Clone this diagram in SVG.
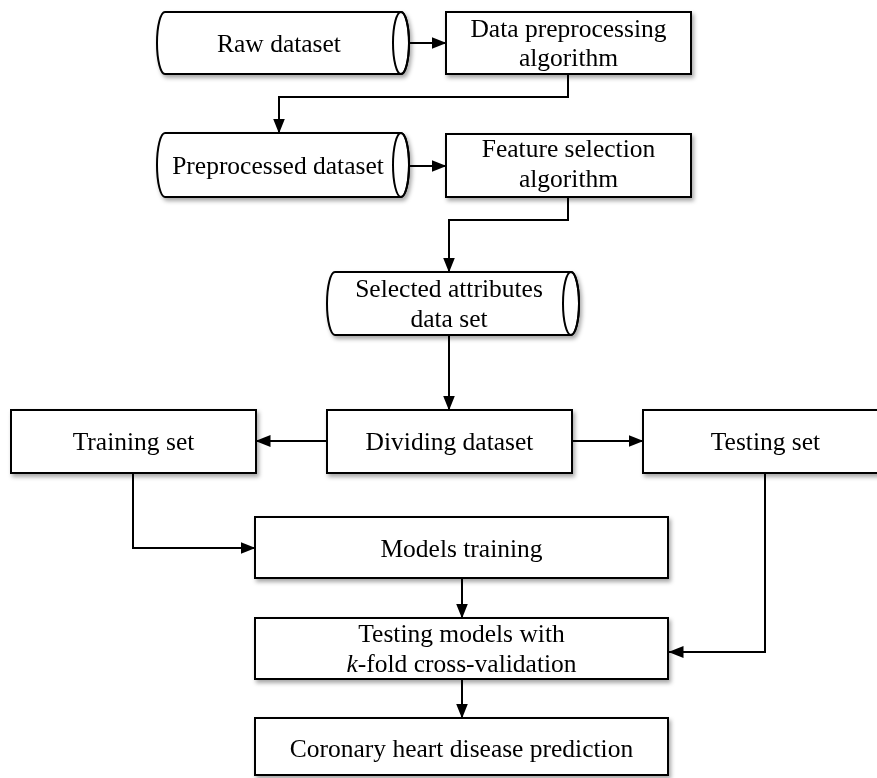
<svg xmlns="http://www.w3.org/2000/svg" width="877" height="778" viewBox="0 0 877 778">
  <defs>
    <filter id="shadow" x="-10%" y="-20%" width="130%" height="160%">
      <feDropShadow dx="2" dy="3" stdDeviation="2" flood-color="#000" flood-opacity="0.35"/>
    </filter>
    <marker id="arrow" markerUnits="userSpaceOnUse" markerWidth="15" markerHeight="12" refX="14.5" refY="6" orient="auto">
      <path d="M0,0 L15,6 L0,12 Z" fill="#000"/>
    </marker>
    <style>
      .shape { fill: #fff; stroke: #000; stroke-width: 2; }
      .cap { fill: none; stroke: #000; stroke-width: 2; }
      .node { filter: url(#shadow); }
      .label { font-family: "Liberation Serif", "Times New Roman", serif; font-size: 25.5px; fill: #000; text-anchor: middle; }
      .edge { fill: none; stroke: #000; stroke-width: 2; marker-end: url(#arrow); }
    </style>
  </defs>

  <rect width="877" height="778" fill="#fff"/>

  <!-- connectors -->
  <g id="connectors">
    <path class="edge" d="M409,43 L446,43"/>
    <path class="edge" d="M568,74 L568,97 L279,97 L279,133"/>
    <path class="edge" d="M409,166 L446,166"/>
    <path class="edge" d="M568,197 L568,220 L449,220 L449,272"/>
    <path class="edge" d="M449,335 L449,410"/>
    <path class="edge" d="M327,441 L256,441"/>
    <path class="edge" d="M572,441 L643,441"/>
    <path class="edge" d="M133,473 L133,548 L255,548"/>
    <path class="edge" d="M765,473 L765,652 L669,652"/>
    <path class="edge" d="M462,578 L462,618"/>
    <path class="edge" d="M462,679 L462,718"/>
  </g>

  <!-- stored data (horizontal cylinders) -->
  <g id="raw-dataset" class="node">
    <path class="shape" d="M165,12 L401,12 A8,31 0 0 1 401,74 L165,74 A8,31 0 0 1 165,12 Z"/>
    <ellipse class="cap" cx="401" cy="43" rx="8" ry="31"/>
    <text class="label" x="279" y="52">Raw dataset</text>
  </g>

  <g id="data-preprocessing" class="node">
    <rect class="shape" x="446" y="12" width="245" height="62"/>
    <text class="label" x="568.5" y="37">Data preprocessing</text>
    <text class="label" x="568.5" y="66">algorithm</text>
  </g>

  <g id="preprocessed-dataset" class="node">
    <path class="shape" d="M165,133 L401,133 A8,32 0 0 1 401,197 L165,197 A8,32 0 0 1 165,133 Z"/>
    <ellipse class="cap" cx="401" cy="165" rx="8" ry="32"/>
    <text class="label" x="278" y="174">Preprocessed dataset</text>
  </g>

  <g id="feature-selection" class="node">
    <rect class="shape" x="446" y="134" width="245" height="63"/>
    <text class="label" x="568.5" y="157">Feature selection</text>
    <text class="label" x="568.5" y="187">algorithm</text>
  </g>

  <g id="selected-attributes" class="node">
    <path class="shape" d="M335,272 L571,272 A8,31.5 0 0 1 571,335 L335,335 A8,31.5 0 0 1 335,272 Z"/>
    <ellipse class="cap" cx="571" cy="303.5" rx="8" ry="31.5"/>
    <text class="label" x="449" y="297">Selected attributes</text>
    <text class="label" x="449" y="327">data set</text>
  </g>

  <!-- process steps -->
  <g id="training-set" class="node">
    <rect class="shape" x="11" y="410" width="245" height="63"/>
    <text class="label" x="133.5" y="450">Training set</text>
  </g>

  <g id="dividing-dataset" class="node">
    <rect class="shape" x="327" y="410" width="245" height="63"/>
    <text class="label" x="449.5" y="450">Dividing dataset</text>
  </g>

  <g id="testing-set" class="node">
    <rect class="shape" x="643" y="410" width="245" height="63"/>
    <text class="label" x="765.5" y="450">Testing set</text>
  </g>

  <g id="models-training" class="node">
    <rect class="shape" x="255" y="517" width="413" height="61"/>
    <text class="label" x="461.5" y="557">Models training</text>
  </g>

  <g id="testing-models" class="node">
    <rect class="shape" x="255" y="618" width="413" height="61"/>
    <text class="label" x="461.5" y="642">Testing models with</text>
    <text class="label" x="461.5" y="672"><tspan font-style="italic">k</tspan>-fold cross-validation</text>
  </g>

  <g id="chd-prediction" class="node">
    <rect class="shape" x="255" y="718" width="413" height="57"/>
    <text class="label" x="461.5" y="757">Coronary heart disease prediction</text>
  </g>
</svg>
